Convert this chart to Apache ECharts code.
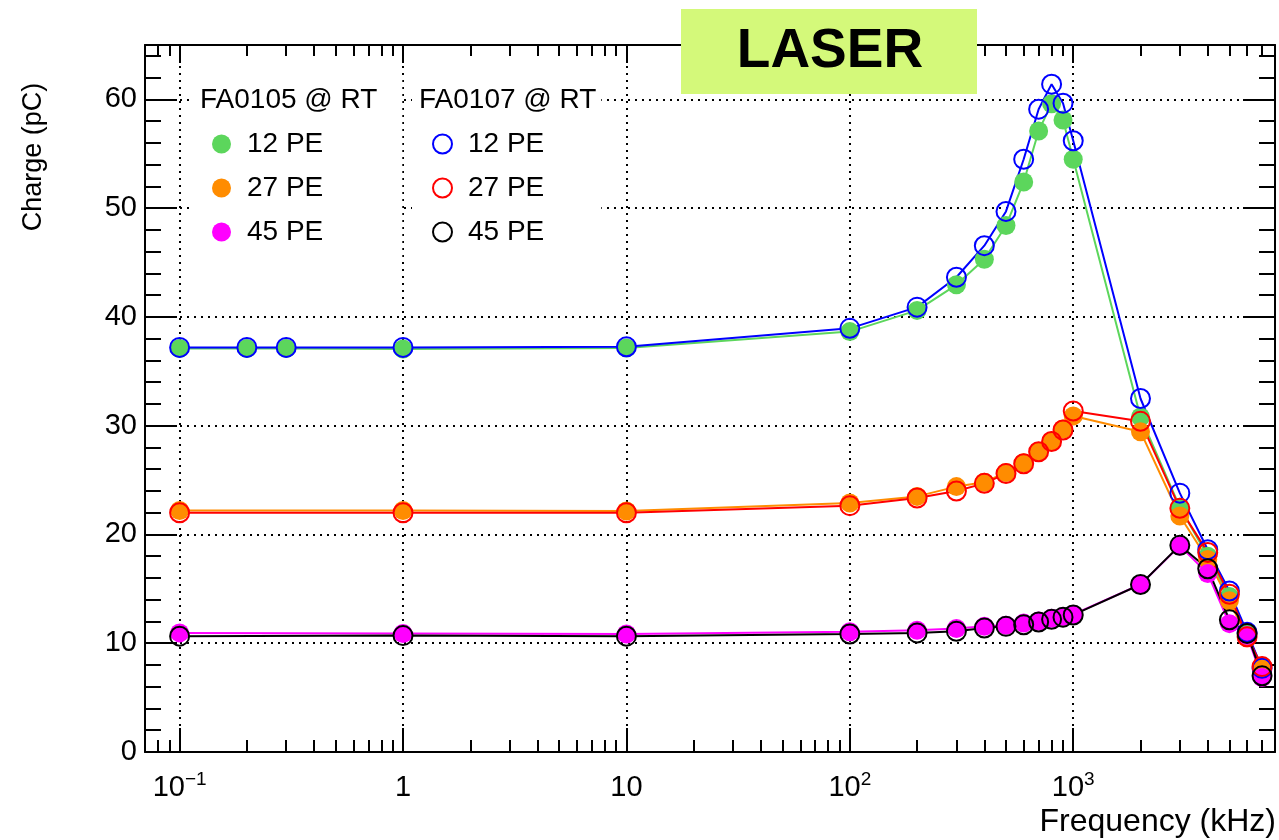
<!DOCTYPE html>
<html>
<head>
<meta charset="utf-8">
<script src="https://cdn.jsdelivr.net/npm/echarts@6/dist/echarts.min.js"></script>
<style>html,body{margin:0;padding:0;background:#fff}#c{width:1279px;height:840px}</style>
</head>
<body>
<div id="c"></div>
<script>
// ---- data (frequency in kHz, charge in pC) ----
const freq12 = [0.1, 0.2, 0.3, 1, 10, 100, 200, 300, 400, 500, 600, 700, 800, 900, 1000, 2000, 3000, 4000, 5000, 6000, 7000];
const freqStd = [0.1, 1, 10, 100, 200, 300, 400, 500, 600, 700, 800, 900, 1000, 2000, 3000, 4000, 5000, 6000, 7000];

const fa0105_12pe = [37.1, 37.1, 37.1, 37.05, 37.15, 38.65, 40.6, 42.95, 45.3, 48.4, 52.4, 57.1, 59.6, 58.1, 54.5, 30.8, 22.5, 18.0, 14.3, 10.9, 7.6];
const fa0107_12pe = [37.2, 37.2, 37.2, 37.2, 37.25, 38.95, 40.9, 43.65, 46.55, 49.7, 54.5, 59.1, 61.4, 59.65, 56.2, 32.5, 23.8, 18.6, 14.8, 11.0, 7.7];
const fa0105_27pe = [22.2, 22.2, 22.15, 22.9, 23.5, 24.4, 24.8, 25.7, 26.6, 27.6, 28.6, 29.7, 30.9, 29.45, 21.7, 17.7, 13.9, 10.5, 7.9];
const fa0107_27pe = [22.0, 22.0, 22.0, 22.65, 23.35, 24.0, 24.7, 25.6, 26.5, 27.6, 28.55, 29.6, 31.35, 30.4, 22.4, 18.35, 14.5, 10.6, 7.85];
const fa0105_45pe = [10.95, 10.9, 10.85, 11.05, 11.2, 11.35, 11.55, 11.65, 11.85, 12.05, 12.3, 12.45, 12.65, 15.4, 18.95, 16.4, 11.8, 10.7, 6.85];
const fa0107_45pe = [10.65, 10.7, 10.65, 10.85, 10.95, 11.1, 11.4, 11.55, 11.7, 11.95, 12.2, 12.4, 12.6, 15.4, 19.0, 16.85, 12.15, 10.9, 7.0];

// ---- axes / ticks ----
const xMinKHz = 0.07, xMaxKHz = 8000;
const xMajorTicks = [0.1, 1, 10, 100, 1000];
const xMinorTicks = [0.07, 0.08, 0.09,
  0.2, 0.3, 0.4, 0.5, 0.6, 0.7, 0.8, 0.9,
  2, 3, 4, 5, 6, 7, 8, 9,
  20, 30, 40, 50, 60, 70, 80, 90,
  200, 300, 400, 500, 600, 700, 800, 900,
  2000, 3000, 4000, 5000, 6000, 7000, 8000];
const yMin = 0, yMax = 65;
const yMajorTicks = [0, 10, 20, 30, 40, 50, 60];
const yMinorTicks = [2, 4, 6, 8, 12, 14, 16, 18, 22, 24, 26, 28, 32, 34, 36, 38, 42, 44, 46, 48, 52, 54, 56, 58, 62, 64];

const FONT = '"Liberation Sans", Arial, Helvetica, sans-serif';
const L = v => Math.log10(v);
const pts = (f, v) => f.map((x, i) => [L(x), v[i]]);

function xLabel(v) {
  const e = Math.round(v);
  if (e === 0) return '1';
  if (e === 1) return '10';
  return '10{s|' + (e < 0 ? '\u2212' : '') + Math.abs(e) + '}';
}

const blackLine = { color: '#000', width: 2 };
function xAx(pos, ticks, len, major) {
  return {
    type: 'value', position: pos, gridIndex: 0,
    min: L(xMinKHz), max: L(xMaxKHz),
    axisLine: { show: major, onZero: false, lineStyle: blackLine },
    axisTick: { show: true, inside: true, length: len, lineStyle: blackLine, customValues: ticks.map(L) },
    axisLabel: (major && pos === 'bottom') ? {
      show: true, customValues: xMajorTicks.map(L), formatter: xLabel,
      fontSize: 29, fontFamily: FONT, color: '#000', margin: 18, lineHeight: 36,
      rich: { s: { fontSize: 19, fontFamily: FONT, color: '#000', verticalAlign: 'top', lineHeight: 22 } }
    } : { show: false },
    splitLine: (major && pos === 'bottom') ? { show: true, lineStyle: { color: '#000', width: 2, type: [2, 5] } } : { show: false }
  };
}
function yAx(pos, ticks, len, major) {
  return {
    type: 'value', position: pos, gridIndex: 0, min: yMin, max: yMax,
    axisLine: { show: major, onZero: false, lineStyle: blackLine },
    axisTick: { show: true, inside: true, length: len, lineStyle: blackLine, customValues: ticks },
    axisLabel: (major && pos === 'left') ? {
      show: true, customValues: yMajorTicks, fontSize: 29, fontFamily: FONT, color: '#000', margin: 8
    } : { show: false },
    splitLine: (major && pos === 'left') ? { show: true, lineStyle: { color: '#000', width: 2, type: [2, 5] } } : { show: false }
  };
}

function filled(name, f, v, color) {
  return {
    type: 'line', name, data: pts(f, v), xAxisIndex: 0, yAxisIndex: 0,
    symbol: 'circle', symbolSize: 19, showAllSymbol: true,
    itemStyle: { color: color, borderWidth: 0 },
    lineStyle: { color: color, width: 2 },
    emphasis: { disabled: true }
  };
}
function hollow(name, f, v, color) {
  return {
    type: 'line', name, data: pts(f, v), xAxisIndex: 0, yAxisIndex: 0,
    symbol: 'circle', symbolSize: 19, showAllSymbol: true,
    itemStyle: { color: 'rgba(0,0,0,0)', borderColor: color, borderWidth: 2 },
    lineStyle: { color: color, width: 2 },
    emphasis: { disabled: true }
  };
}

const C = { green: '#5cd65c', orange: '#ff8c00', magenta: '#ff00ff', blue: '#0000ff', red: '#ff0000', black: '#000000' };

const legendText = { fontSize: 28, fontFamily: FONT, color: '#000', lineHeight: 30, padding: [0, 0, 0, 11] };
const stripName = n => n.replace(/^FA010\d /, '');

const option = {
  backgroundColor: '#fff',
  animation: false,
  textStyle: { fontFamily: FONT },
  grid: { left: 145, top: 45, right: 4, bottom: 88, containLabel: false, outerBoundsMode: 'none' },
  xAxis: [
    xAx('bottom', xMajorTicks, 24, true),
    xAx('bottom', xMinorTicks, 12, false),
    xAx('top', xMajorTicks, 18, true),
    xAx('top', xMinorTicks, 11, false)
  ],
  yAxis: [
    yAx('left', yMajorTicks, 32, true),
    yAx('left', yMinorTicks, 16, false),
    yAx('right', yMajorTicks, 32, true),
    yAx('right', yMinorTicks, 16, false)
  ],
  legend: [
    {
      left: 192, top: 75, orient: 'vertical', selectedMode: false,
      backgroundColor: '#fff', padding: [54, 79, 13, 20],
      itemWidth: 19, itemHeight: 19, itemGap: 14, icon: 'circle',
      textStyle: legendText, formatter: stripName,
      data: [
        { name: 'FA0105 12 PE', itemStyle: { color: C.green, borderWidth: 0 } },
        { name: 'FA0105 27 PE', itemStyle: { color: C.orange, borderWidth: 0 } },
        { name: 'FA0105 45 PE', itemStyle: { color: C.magenta, borderWidth: 0 } }
      ]
    },
    {
      left: 412, top: 75, orient: 'vertical', selectedMode: false,
      backgroundColor: '#fff', padding: [54, 57, 13, 20],
      itemWidth: 19, itemHeight: 19, itemGap: 14, icon: 'circle',
      textStyle: legendText, formatter: stripName,
      data: [
        { name: 'FA0107 12 PE', itemStyle: { color: 'rgba(0,0,0,0)', borderColor: C.blue, borderWidth: 2 } },
        { name: 'FA0107 27 PE', itemStyle: { color: 'rgba(0,0,0,0)', borderColor: C.red, borderWidth: 2 } },
        { name: 'FA0107 45 PE', itemStyle: { color: 'rgba(0,0,0,0)', borderColor: C.black, borderWidth: 2 } }
      ]
    }
  ],
  series: [
    filled('FA0105 12 PE', freq12, fa0105_12pe, C.green),
    filled('FA0105 27 PE', freqStd, fa0105_27pe, C.orange),
    filled('FA0105 45 PE', freqStd, fa0105_45pe, C.magenta),
    hollow('FA0107 12 PE', freq12, fa0107_12pe, C.blue),
    hollow('FA0107 27 PE', freqStd, fa0107_27pe, C.red),
    hollow('FA0107 45 PE', freqStd, fa0107_45pe, C.black)
  ],
  graphic: [
    { type: 'rect', z: 100, shape: { x: 681, y: 9, width: 296, height: 85 }, style: { fill: '#d4f97a' } },
    { type: 'text', z: 101, x: 830, y: 52,
      style: { text: 'LASER', fontSize: 55, fontWeight: 'bold', fontFamily: FONT, fill: '#000',
               align: 'center', verticalAlign: 'middle', textAlign: 'center', textVerticalAlign: 'middle' } },
    { type: 'text', z: 101, x: 200, y: 100,
      style: { text: 'FA0105 @ RT', fontSize: 28, fontFamily: FONT, fill: '#000',
               align: 'left', verticalAlign: 'middle', textAlign: 'left', textVerticalAlign: 'middle' } },
    { type: 'text', z: 101, x: 419, y: 100,
      style: { text: 'FA0107 @ RT', fontSize: 28, fontFamily: FONT, fill: '#000',
               align: 'left', verticalAlign: 'middle', textAlign: 'left', textVerticalAlign: 'middle' } },
    { type: 'text', z: 101, x: 1276, y: 822,
      style: { text: 'Frequency (kHz)', fontSize: 32, fontFamily: FONT, fill: '#000',
               align: 'right', verticalAlign: 'middle', textAlign: 'right', textVerticalAlign: 'middle' } },
    { type: 'text', z: 101, x: 34, y: 157, rotation: Math.PI / 2,
      style: { text: 'Charge (pC)', fontSize: 27, fontFamily: FONT, fill: '#000',
               align: 'center', verticalAlign: 'middle', textAlign: 'center', textVerticalAlign: 'middle' } }
  ]
};

const chart = echarts.init(document.getElementById('c'), null, { renderer: 'canvas' });
chart.setOption(option);
</script>
</body>
</html>
